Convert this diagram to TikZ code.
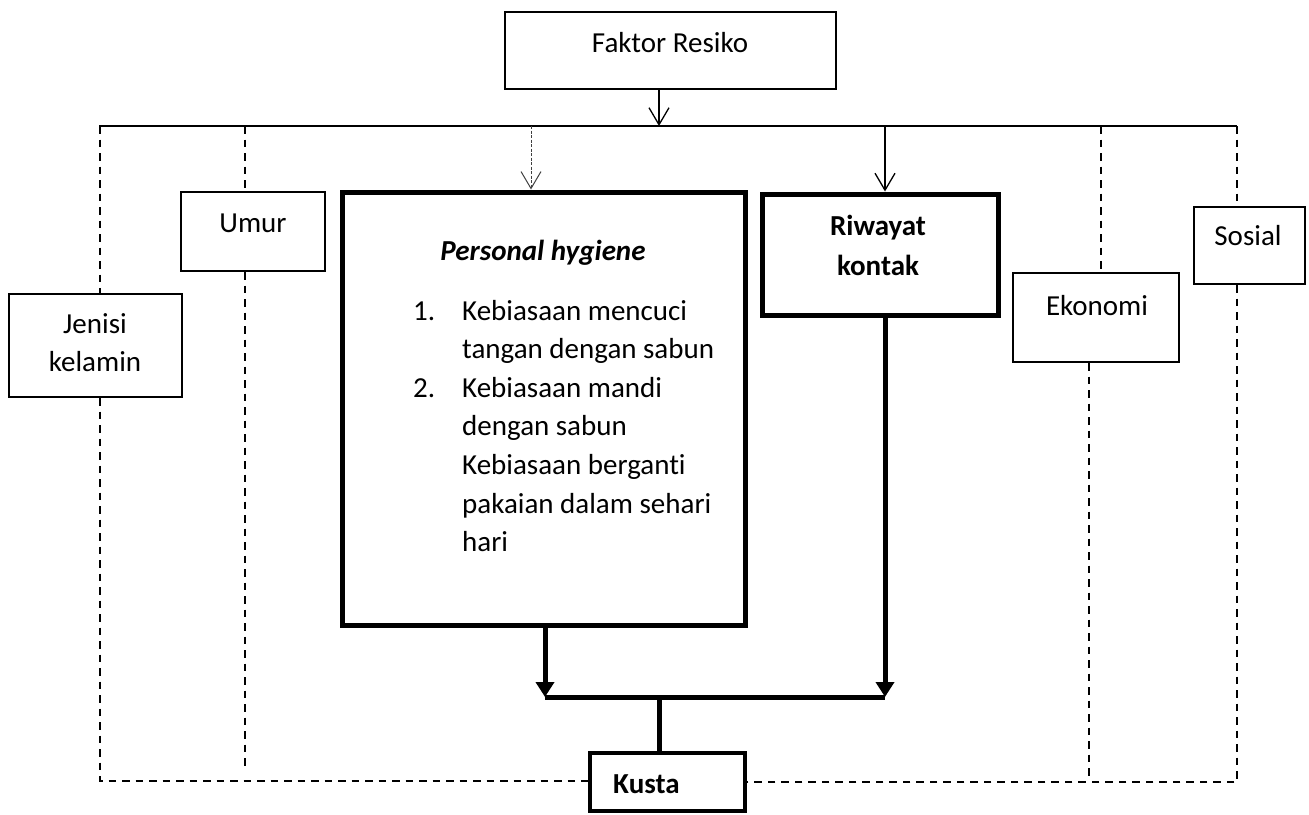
\documentclass[tikz,border=0pt]{standalone}
\usepackage{fontspec}
\setmainfont{Carlito}[Ligatures=NoCommon]
\usetikzlibrary{arrows.meta}
\begin{document}
\begin{tikzpicture}[x=1pt,y=-1pt,
  every node/.style={font=\fontsize{29}{38.6}\selectfont},
  thinbox/.style={draw, line width=2.2pt, inner sep=0pt},
  thickbox/.style={draw, line width=5pt, inner sep=0pt},
  kustabox/.style={draw, line width=4pt, inner sep=0pt},
  txt/.style={anchor=base, inner sep=0pt},
  thinline/.style={line width=1.3pt},
  thinarrow/.style={line width=1.3pt, -{Straight Barb[length=17pt,width=20pt]}},
  dotarrow/.style={line width=1pt, black!75, dash pattern=on 3pt off 1.5pt, -{Straight Barb[length=17pt,width=20pt]}},
  thickline/.style={line width=5pt},
  thickarrow/.style={line width=5pt, -{Triangle[length=15pt,width=18pt]}},
  dashline/.style={line width=1.8pt, dash pattern=on 7.5pt off 6pt}
]
\useasboundingbox (0,0) rectangle (1309,814);

% boxes
\node[thinbox, minimum width=331pt, minimum height=77pt] (faktor) at (670.5,50.5) {};
\node[thinbox, minimum width=144pt, minimum height=79pt] (umur) at (253,231.5) {};
\node[thinbox, minimum width=173pt, minimum height=103pt] (jenisi) at (95.5,345.5) {};
\node[thickbox, minimum width=403pt, minimum height=433pt] (ph) at (543.5,408.5) {};
\node[thickbox, minimum width=236pt, minimum height=121pt] (riwayat) at (880,254.5) {};
\node[thinbox, minimum width=166pt, minimum height=89pt] (ekonomi) at (1096,317.5) {};
\node[thinbox, minimum width=111pt, minimum height=77pt] (sosial) at (1249.5,245.5) {};
\node[kustabox, minimum width=155pt, minimum height=58pt] (kusta) at (667.5,782) {};

% texts
\node[txt] (tfaktor) at (670,52) {Faktor Resiko};
\node[txt] (tumur) at (253,232) {Umur};
\node[txt] (tjen1) at (95,333) {Jenisi};
\node[txt] (tjen2) at (95,371) {kelamin};
\node[txt] (tph) at (543,260) {\bfseries\itshape Personal hygiene};
\node[anchor=base west, inner sep=0pt] (phlist) at (413,320) {\begin{tabular}[t]{@{}l@{\hspace{27pt}}l@{}}
1. & Kebiasaan mencuci\\
   & tangan dengan sabun\\
2. & Kebiasaan mandi\\
   & dengan sabun\\
   & Kebiasaan berganti\\
   & pakaian dalam sehari\\
   & hari
\end{tabular}};
\node[txt] (triw1) at (878,235) {\bfseries Riwayat};
\node[txt] (triw2) at (878,275) {\bfseries kontak};
\node[txt] (tekon) at (1097,315) {Ekonomi};
\node[txt] (tsos) at (1248,245) {Sosial};
\node[anchor=base west, inner sep=0pt] (tkusta) at (613,793) {\bfseries Kusta};

% junction coordinates
\coordinate (topL) at (99,126);
\coordinate (topR) at (1237,126);
\coordinate (ax) at (659,126);
\coordinate (phin) at (531,126);
\coordinate (rin) at (885,126);
\coordinate (jenT) at (100,126);
\coordinate (jenB) at (100,781);
\coordinate (umT) at (245,126);
\coordinate (umB) at (245,771);
\coordinate (ekT) at (1101,126);
\coordinate (ekB) at (1089,781);
\coordinate (soT) at (1237,126);
\coordinate (soB) at (1237,782);
\coordinate (jL) at (545,697);
\coordinate (jR) at (885,697);
\coordinate (jM) at (659,697);

% solid thin connectors
\draw[thinline] (topL) -- (topR);
\draw[thinarrow] (faktor.south -| ax) -- (ax);
\draw[dotarrow] (phin) -- (phin |- ph.north);
\draw[thinarrow] (rin) -- (rin |- riwayat.north);

% thick connectors
\draw[thickarrow] (ph.south -| jL) -- (jL);
\draw[thickarrow] (riwayat.south -| jR) -- (jR);
\draw[thickline] (jL) -- (jR);
\draw[thickline] (jM) -- (kusta.north -| jM);

% dashed connectors
\draw[dashline] (jenT) -- (jenT |- jenisi.north);
\draw[dashline] (jenisi.south -| jenB) -- (jenB) -- (kusta.west |- jenB);
\draw[dashline] (umT) -- (umT |- umur.north);
\draw[dashline] (umur.south -| umB) -- (umB);
\draw[dashline] (ekT) -- (ekT |- ekonomi.north);
\draw[dashline] (ekonomi.south -| ekB) -- (ekB);
\draw[dashline] (soT) -- (soT |- sosial.north);
\draw[dashline] (sosial.south -| soB) -- (soB) -- (kusta.east |- soB);
\end{tikzpicture}
\end{document}
